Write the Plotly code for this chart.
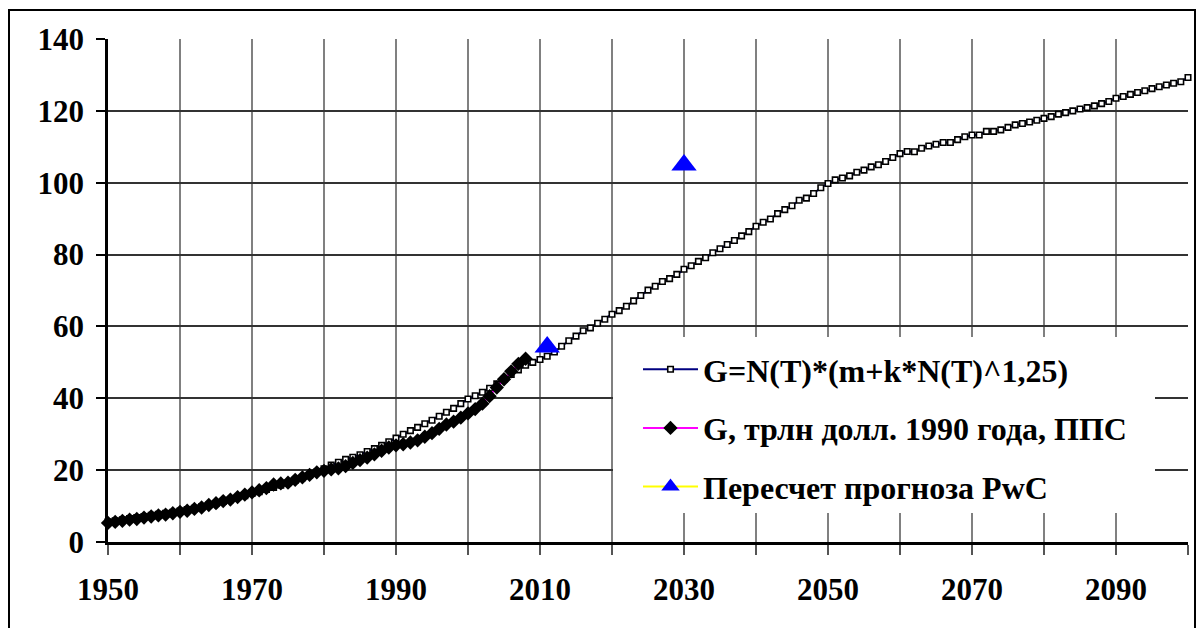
import plotly.graph_objects as go

# ---- data ----
model_years = list(range(1950, 2101))
model_values = [
    5.6, 5.9, 6.2, 6.5, 6.8, 7.1, 7.4, 7.7, 8.0, 8.3,
    8.6, 9.0, 9.4, 9.8, 10.3, 10.8, 11.3, 11.8, 12.4, 12.9,
    13.5, 14.0, 14.6, 15.2, 15.8, 16.5, 17.2, 17.9, 18.6, 19.5,
    20.4, 21.4, 22.2, 23.0, 23.6, 24.3, 25.2, 26.0, 26.9, 27.9,
    28.9, 30.0, 31.0, 31.9, 32.9, 33.9, 35.0, 36.1, 37.2, 38.5,
    39.8, 40.7, 41.7, 42.8, 44.0, 45.3, 46.6, 47.9, 49.2, 50.0,
    50.8, 51.7, 52.9, 54.5, 56.0, 57.3, 58.8, 59.6, 60.9, 62.0,
    63.4, 64.4, 65.6, 67.1, 68.6, 70.1, 71.2, 72.5, 73.3, 74.5,
    75.9, 76.9, 78.1, 79.1, 80.5, 81.6, 82.8, 83.9, 85.2, 86.4,
    87.9, 89.0, 89.9, 91.4, 92.5, 93.6, 95.1, 95.7, 97.0, 98.6,
    99.8, 100.8, 101.3, 101.9, 102.9, 103.5, 104.4, 105.0, 105.9, 107.0,
    108.1, 108.7, 108.6, 109.6, 110.2, 110.7, 111.2, 111.2, 112.0, 112.8,
    113.3, 113.3, 114.3, 114.3, 114.7, 115.4, 116.1, 116.5, 116.9, 117.4,
    117.9, 118.4, 119.1, 119.5, 120.0, 120.5, 120.9, 121.4, 122.0, 122.6,
    123.5, 124.0, 124.6, 125.1, 125.6, 126.2, 126.7, 127.2, 127.7, 128.1,
    129.3,
]

hist_years = list(range(1950, 2009))
hist_values = [
    5.3, 5.6, 5.9, 6.2, 6.4, 6.8, 7.1, 7.4, 7.6, 8.0,
    8.4, 8.7, 9.2, 9.6, 10.3, 10.8, 11.4, 11.8, 12.5, 13.2,
    13.8, 14.4, 15.0, 16.0, 16.3, 16.5, 17.3, 18.0, 18.7, 19.4,
    19.8, 20.2, 20.5, 21.1, 22.0, 22.8, 23.5, 24.4, 25.4, 26.3,
    26.9, 27.2, 27.7, 28.3, 29.3, 30.3, 31.5, 32.7, 33.5, 34.6,
    35.8, 37.0, 38.5, 40.6, 43.0, 45.3, 47.5, 49.6, 51.0,
]

pwc_years = [2011, None, 2030]
pwc_values = [54.3, None, 104.9]

x_tick_vals = [1950, 1970, 1990, 2010, 2030, 2050, 2070, 2090]
x_tick_text = ["1950", "1970", "1990", "2010", "2030", "2050", "2070", "2090"]
y_tick_vals = [0, 20, 40, 60, 80, 100, 120, 140]

names = [
    "G=N(T)*(m+k*N(T)^1,25)",
    "G, трлн долл. 1990 года, ППС",
    "Пересчет прогноза PwC",
]

FONT = "Liberation Serif, Times New Roman, serif"

fig = go.Figure()
fig.add_trace(go.Scatter(
    x=model_years, y=model_values, name=names[0], mode="lines+markers",
    line=dict(color="#000080", width=2),
    marker=dict(symbol="square", size=5.5, color="white",
                line=dict(color="black", width=1.6)),
    cliponaxis=False, legendgroup="a",
))
fig.add_trace(go.Scatter(
    x=hist_years, y=hist_values, name=names[1], mode="lines+markers",
    line=dict(color="#FF00FF", width=2),
    marker=dict(symbol="diamond", size=11, color="black"),
    cliponaxis=False, legendgroup="b",
))
fig.add_trace(go.Scatter(
    x=pwc_years, y=pwc_values, name=names[2], mode="lines+markers",
    line=dict(color="#FFFF00", width=2),
    marker=dict(symbol="triangle-up", size=22, color="#0000FF"),
    connectgaps=False, cliponaxis=False, legendgroup="c",
))

def px_x(p):
    return (p - 108) / 1080

def px_y(p):
    return (542 - p) / 503

# outer chart frame
fig.add_shape(type="rect", xref="paper", yref="paper",
              x0=px_x(9), x1=px_x(1195), y0=px_y(660), y1=px_y(10),
              line=dict(color="black", width=2), layer="below")
# white legend panel
fig.add_shape(type="rect", xref="paper", yref="paper",
              x0=px_x(613), x1=px_x(1155), y0=px_y(513), y1=px_y(337),
              line=dict(width=0), fillcolor="white", layer="above")

fig.update_layout(
    width=1200, height=628,
    margin=dict(l=108, r=12, t=39, b=86),
    paper_bgcolor="white", plot_bgcolor="white",
    font=dict(family=FONT, color="black"),
    showlegend=True,
    legend=dict(
        x=px_x(638), y=px_y(342),
        xanchor="left", yanchor="top",
        bgcolor="rgba(255,255,255,0)", borderwidth=0,
        font=dict(family=FONT, size=32, color="black", weight="bold"),
        tracegroupgap=14, itemwidth=55,
    ),
)

fig.update_xaxes(
    range=[1950, 2100],
    tickmode="array", tickvals=x_tick_vals, ticktext=x_tick_text,
    ticks="outside", ticklen=10, tickwidth=1.5, tickcolor="#555555",
    tickfont=dict(family=FONT, size=31, color="black", weight="bold"),
    ticklabelstandoff=8,
    showgrid=True, gridcolor="#808080", gridwidth=1.5,
    minor=dict(dtick=10, tick0=1950, ticks="outside", ticklen=10, tickwidth=1.5,
               tickcolor="#555555", showgrid=True, gridcolor="#808080", gridwidth=1.5),
    showline=True, linecolor="black", linewidth=2.5,
    zeroline=False, mirror=False,
)
fig.update_yaxes(
    range=[0, 140],
    tickmode="array", tickvals=y_tick_vals,
    ticks="outside", ticklen=9, tickwidth=1.5, tickcolor="black",
    tickfont=dict(family=FONT, size=31, color="black", weight="bold"),
    ticklabelstandoff=6,
    showgrid=True, gridcolor="#333333", gridwidth=1.5,
    showline=True, linecolor="black", linewidth=2.5,
    zeroline=False,
)

fig.write_html("out.html", config={"displayModeBar": False},
               post_script="document.body.style.margin='0';")
